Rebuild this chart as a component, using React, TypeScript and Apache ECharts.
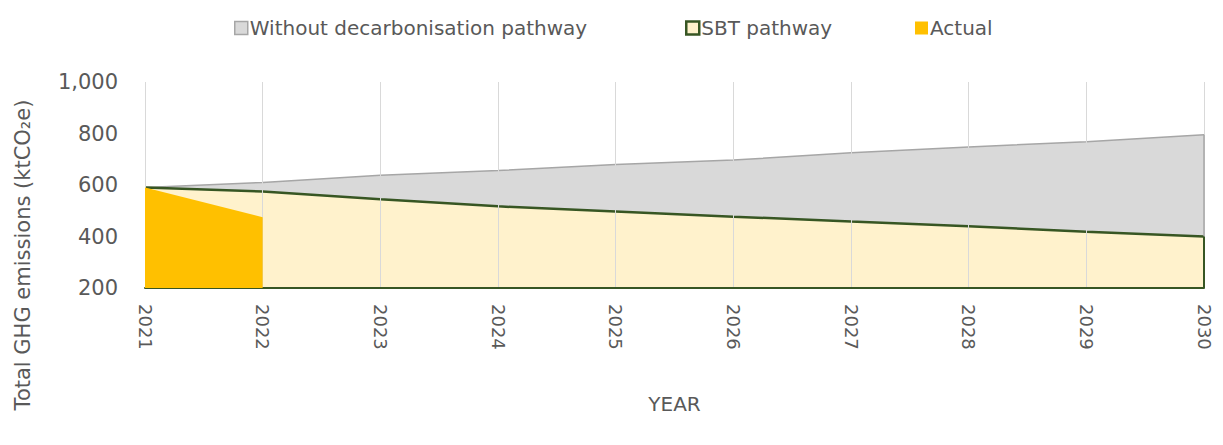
import React, { useEffect, useRef } from "react";
import * as echarts from "echarts";

const years = ["2021", "2022", "2023", "2024", "2025", "2026", "2027", "2028", "2029", "2030"];
const withoutPathway = [590, 610, 638, 656, 680, 697, 725, 748, 768, 795];
const sbtPathway = [590, 575, 545, 517, 497, 477, 458, 440, 418, 400];
const actual = [590, 475, null, null, null, null, null, null, null, null];
const yTicks = [200, 400, 600, 800, 1000];

const FONT = "'DejaVu Sans', Verdana, sans-serif";
const TEXT = "#595959";
const GRAY = "#D9D9D9";
const GRAY_BORDER = "#A6A6A6";
const GREEN = "#375623";
const CREAM = "#FFF2CC";
const ORANGE = "#FFC000";

export default function App() {
  const ref = useRef<HTMLDivElement>(null);
  useEffect(() => {
    const chart = echarts.init(ref.current!, null, { renderer: "svg" });
    const lastYear = years[years.length - 1];
    const lastWithout = withoutPathway[withoutPathway.length - 1];
    const lastSbt = sbtPathway[sbtPathway.length - 1];
    const legendBase = {
      top: 5,
      itemWidth: 13,
      itemHeight: 13,
      textStyle: { fontSize: 20, color: TEXT, fontFamily: FONT, padding: [0, 0, 0, -3] },
    };
    chart.setOption({
      animation: false,
      textStyle: { fontFamily: FONT },
      legend: [
        {
          ...legendBase,
          left: 221,
          data: [{ name: "Without decarbonisation pathway", icon: "rect", itemStyle: { color: GRAY, borderColor: GRAY_BORDER, borderWidth: 1.5 } }],
        },
        {
          ...legendBase,
          left: 672,
          data: [{ name: "SBT pathway", icon: "rect", itemStyle: { color: CREAM, borderColor: GREEN, borderWidth: 2.5 } }],
        },
        {
          ...legendBase,
          left: 902,
          data: [{ name: "Actual", icon: "rect", itemStyle: { color: ORANGE, borderWidth: 0 } }],
        },
      ],
      grid: { left: 137, right: 11, top: 74, bottom: 149, containLabel: false },
      xAxis: {
        type: "category",
        data: years,
        boundaryGap: false,
        name: "YEAR",
        nameLocation: "middle",
        nameGap: 106,
        nameTextStyle: { fontSize: 20, color: TEXT, fontFamily: FONT },
        axisLine: { show: true, lineStyle: { color: GREEN, width: 2 } },
        axisTick: { show: false },
        axisLabel: { rotate: -90, fontSize: 18, color: TEXT, margin: 16, fontFamily: FONT },
        splitLine: { show: true, lineStyle: { color: GRAY, width: 1 } },
        z: 3,
      },
      yAxis: {
        type: "value",
        min: yTicks[0],
        max: yTicks[yTicks.length - 1],
        interval: 200,
        axisLine: { show: false },
        axisTick: { show: false },
        splitLine: { show: false },
        axisLabel: {
          fontSize: 21,
          color: TEXT,
          margin: 27,
          fontFamily: FONT,
          formatter: (v: number) => v.toLocaleString("en-US"),
        },
      },
      graphic: [
        {
          type: "text",
          x: 15,
          y: 247,
          rotation: Math.PI / 2,
          style: {
            text: "Total GHG emissions (ktCO₂e)",
            fontSize: 21,
            fill: TEXT,
            fontFamily: FONT,
            align: "center",
            verticalAlign: "middle",
          },
        },
      ],
      series: [
        {
          name: "Without decarbonisation pathway",
          type: "line",
          data: withoutPathway,
          symbol: "none",
          lineStyle: { color: GRAY_BORDER, width: 1.5 },
          itemStyle: { color: GRAY },
          areaStyle: { color: GRAY, opacity: 1, origin: "start" },
          z: 1,
          markLine: {
            silent: true,
            symbol: "none",
            label: { show: false },
            lineStyle: { color: GRAY_BORDER, width: 1.5, type: "solid" },
            data: [[{ coord: [lastYear, lastWithout] }, { coord: [lastYear, lastSbt] }]],
          },
        },
        {
          name: "SBT pathway",
          type: "line",
          data: sbtPathway,
          symbol: "none",
          lineStyle: { color: GREEN, width: 2.5 },
          itemStyle: { color: CREAM },
          areaStyle: { color: CREAM, opacity: 1, origin: "start" },
          z: 2,
          markLine: {
            silent: true,
            symbol: "none",
            label: { show: false },
            lineStyle: { color: GREEN, width: 2, type: "solid" },
            data: [[{ coord: [lastYear, lastSbt] }, { coord: [lastYear, yTicks[0]] }]],
          },
        },
        {
          name: "Actual",
          type: "line",
          data: actual,
          symbol: "none",
          lineStyle: { width: 0, color: ORANGE },
          itemStyle: { color: ORANGE },
          areaStyle: { color: ORANGE, opacity: 1, origin: "start" },
          z: 4,
        },
      ],
    });
    return () => chart.dispose();
  }, []);
  return <div ref={ref} style={{ width: 1207, height: 429 }} />;
}
